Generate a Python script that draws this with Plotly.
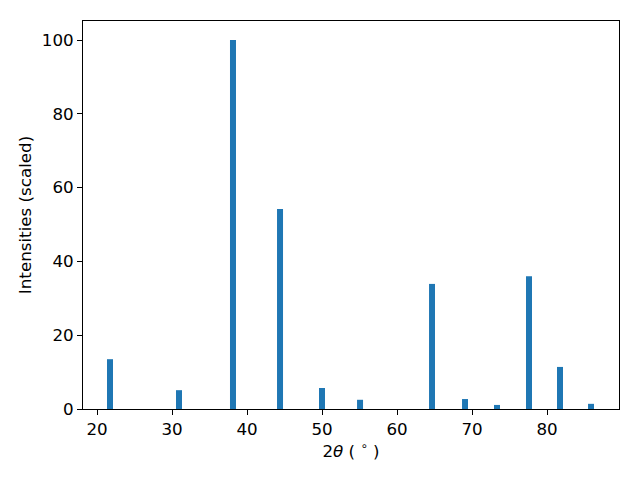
import plotly.graph_objects as go

two_theta = [21.73, 30.93, 38.13, 44.4, 50.0, 55.07, 64.67, 69.07, 73.33, 77.6, 81.73, 85.87]
intensity = [13.5, 5.1, 100, 54.2, 5.7, 2.5, 33.9, 2.7, 1.1, 36.0, 11.4, 1.4]

fig = go.Figure(go.Bar(x=two_theta, y=intensity, width=0.8,
                       marker=dict(color="#1f77b4", line=dict(width=0))))

axis_common = dict(showline=True, linecolor="black", linewidth=1, mirror=True,
                   ticks="outside", ticklen=5, tickwidth=1, tickcolor="black",
                   showgrid=False, zeroline=False,
                   tickfont=dict(family="DejaVu Sans", size=16.7, color="black"))

fig.update_layout(
    width=632, height=472,
    margin=dict(l=75, r=21, t=13, b=71),
    paper_bgcolor="white", plot_bgcolor="white",
    font=dict(family="DejaVu Sans", size=16.7, color="black"),
    xaxis=dict(range=[18.13, 89.6], tickvals=[20, 30, 40, 50, 60, 70, 80],
               title=dict(text="2<i>θ</i> ( <sup>∘</sup> )", standoff=6,
                          font=dict(family="DejaVu Sans", size=16.7)), **axis_common),
    yaxis=dict(range=[0, 105.15], tickvals=[0, 20, 40, 60, 80, 100],
               title=dict(text="Intensities (scaled)", standoff=5,
                          font=dict(family="DejaVu Sans", size=16.7)), **axis_common),
    showlegend=False,
)

fig.write_html("out.html")
